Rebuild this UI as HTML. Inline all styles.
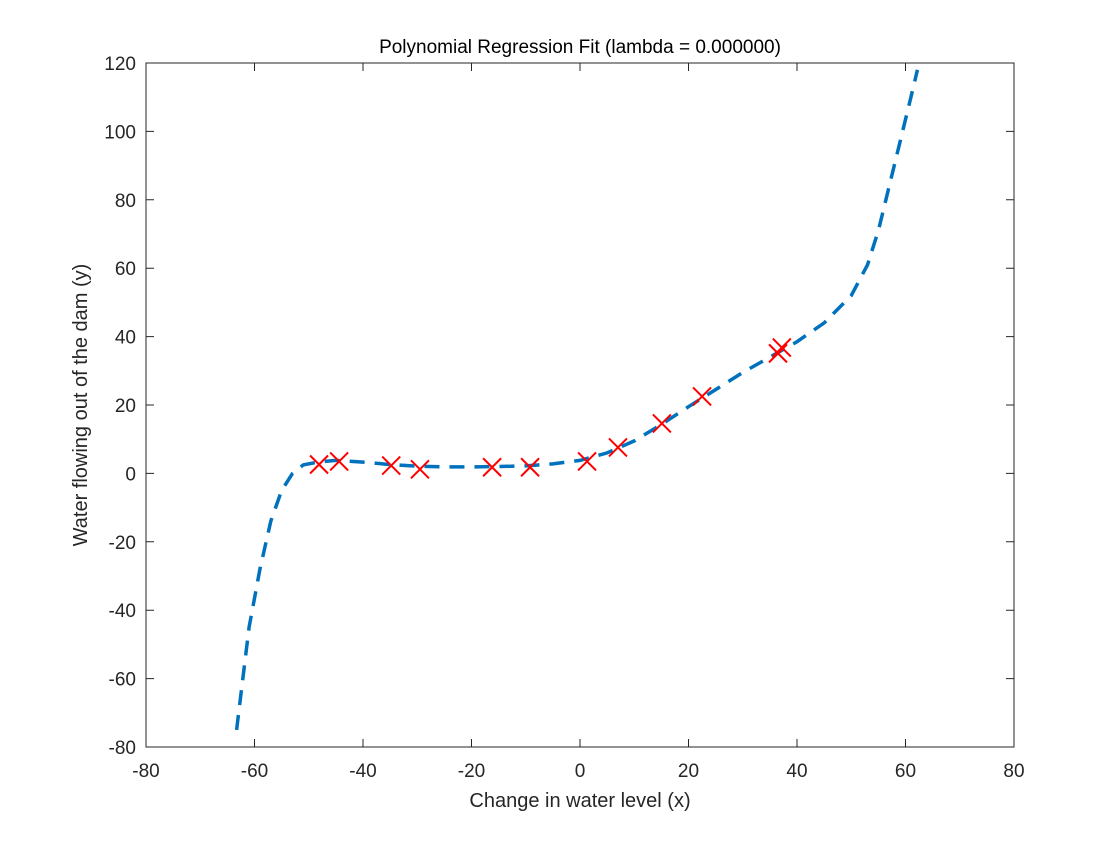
<!DOCTYPE html>
<html><head><meta charset="utf-8"><style>
body{margin:0;background:#fff;}
svg text{font-family:"Liberation Sans",sans-serif;fill:#262626;}
</style></head><body>
<svg width="1120" height="840" id="c">
<rect x="0" y="0" width="1120" height="840" fill="#fff"/>
</svg>
<script>
const xTicks=[-80,-60,-40,-20,0,20,40,60,80];
const yTicks=[-80,-60,-40,-20,0,20,40,60,80,100,120];
const dataX=[-48.1,-44.4,-34.8,-29.5,-16.2,-9.2,1.3,7.0,15.1,22.5,36.5,37.2];
const dataY=[2.6,3.5,2.3,1.2,1.8,1.8,3.5,7.6,14.6,22.5,35.1,36.8];
const fitX=[-63.3,-61,-59,-57,-55,-53,-51,-48,-45,-40,-35,-30,-25,-20,-15,-10,-5,0,5,10,15,20,25,30,35,40,45,50,53,55,57,59,61,62.2];
const fitY=[-75,-45,-28,-14,-5,0,2.5,3.4,3.8,3.3,2.6,2.1,1.9,1.9,2,2.2,2.8,3.8,6,9.5,14.3,19.5,24.5,29.5,34,38.5,44,52,61,71,84,97,110,118];
const L=146,R=1014,T=63,B=747;
const sx=v=>L+(v+80)/160*(R-L);
const sy=v=>B-(v+80)/200*(B-T);
const svg=document.getElementById('c');
const NS='http://www.w3.org/2000/svg';
function mk(tag,attrs,parent){const e=document.createElementNS(NS,tag);for(const k in attrs)e.setAttribute(k,attrs[k]);(parent||svg).appendChild(e);return e;}
const box=mk('rect',{x:L,y:T,width:R-L,height:B-T,fill:'none',stroke:'#262626','stroke-width':1});


xTicks.forEach(t=>{
  const x=sx(t);
  const l=mk('path',{d:`M${x},${B}V${B-8}M${x},${T}V${T+8}`,stroke:'#262626','stroke-width':1});
  
  
  const tx=mk('text',{x:x,y:B+30,'text-anchor':'middle','font-size':19});
  tx.textContent=t;
  
  
});
yTicks.forEach(t=>{
  const y=sy(t);
  const l=mk('path',{d:`M${L},${y}H${L+8}M${R},${y}H${R-8}`,stroke:'#262626','stroke-width':1});
  
  
  const tx=mk('text',{x:L-10,y:y+7,'text-anchor':'end','font-size':19});
  tx.textContent=t;
  
  
});
const pts=fitX.map((v,i)=>sx(v)+','+sy(fitY[i])).join(' ');
const fit=mk('polyline',{points:pts,fill:'none',stroke:'#0072BD','stroke-width':3.5,'stroke-dasharray':'15 10'});


dataX.forEach((v,i)=>{
  const x=sx(v),y=sy(dataY[i]),h=9;
  const m=mk('path',{d:`M${x-h},${y-h}L${x+h},${y+h}M${x-h},${y+h}L${x+h},${y-h}`,stroke:'#FF0000','stroke-width':2});
  
  
});
const title=mk('text',{x:580,y:53,'text-anchor':'middle','font-size':19,style:'fill:#000'});
title.textContent='Polynomial Regression Fit (lambda = 0.000000)';


const xl=mk('text',{x:580,y:807,'text-anchor':'middle','font-size':20});
xl.textContent='Change in water level (x)';


const yl=mk('text',{x:0,y:0,'text-anchor':'middle','font-size':20,transform:'translate(87,405) rotate(-90)'});
yl.textContent='Water flowing out of the dam (y)';


</script>
</body></html>
